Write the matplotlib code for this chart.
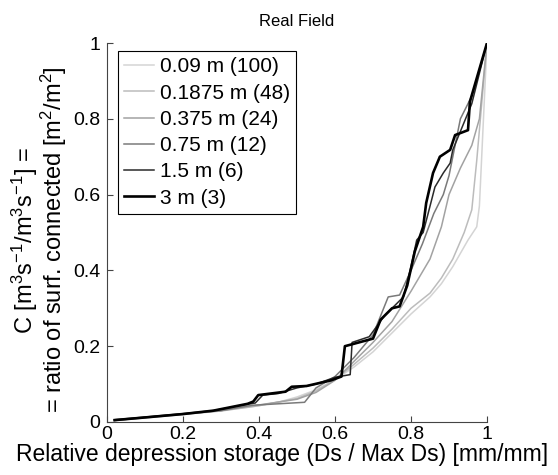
import numpy as np
import matplotlib
matplotlib.use("Agg")
import matplotlib.pyplot as plt

plt.rcParams["font.family"] = ["Liberation Sans", "DejaVu Sans"]
plt.rcParams["mathtext.default"] = "regular"

# ---------------------------------------------------------------------------
# DATA
# ---------------------------------------------------------------------------
LABELS = ["0.09 m (100)", "0.1875 m (48)", "0.375 m (24)",
          "0.75 m (12)", "1.5 m (6)", "3 m (3)"]

x_009 = [0.02, 0.10, 0.20, 0.30, 0.38, 0.45, 0.50, 0.55, 0.60, 0.65, 0.70,
         0.75, 0.80, 0.85, 0.88, 0.91, 0.95, 0.973, 0.98, 1.0]
y_009 = [0.004, 0.011, 0.020, 0.030, 0.040, 0.052, 0.066, 0.085, 0.112, 0.145,
         0.185, 0.235, 0.285, 0.330, 0.365, 0.410, 0.480, 0.515, 0.570, 1.0]

x_01875 = [0.02, 0.10, 0.20, 0.30, 0.40, 0.50, 0.55, 0.60, 0.65, 0.70, 0.75,
           0.80, 0.85, 0.88, 0.91, 0.94, 0.96, 0.973, 1.0]
y_01875 = [0.004, 0.011, 0.020, 0.029, 0.043, 0.062, 0.082, 0.112, 0.152,
           0.195, 0.245, 0.300, 0.340, 0.380, 0.430, 0.500, 0.560, 0.690, 1.0]

x_0375 = [0.02, 0.10, 0.20, 0.30, 0.40, 0.50, 0.55, 0.60, 0.65, 0.70, 0.75,
          0.80, 0.85, 0.88, 0.90, 0.93, 0.96, 0.98, 1.0]
y_0375 = [0.004, 0.012, 0.021, 0.030, 0.045, 0.060, 0.078, 0.110, 0.160,
          0.210, 0.265, 0.345, 0.430, 0.515, 0.600, 0.670, 0.730, 0.800, 1.0]

x_075 = [0.02, 0.10, 0.20, 0.30, 0.38, 0.45, 0.52, 0.55, 0.60, 0.65, 0.70,
         0.72, 0.74, 0.77, 0.80, 0.83, 0.86, 0.885, 0.90, 0.93, 0.96, 1.0]
y_075 = [0.004, 0.012, 0.021, 0.030, 0.044, 0.048, 0.052, 0.090, 0.120, 0.170,
         0.230, 0.280, 0.330, 0.335, 0.400, 0.470, 0.550, 0.600, 0.650, 0.800,
         0.860, 1.0]

x_15 = [0.02, 0.10, 0.20, 0.28, 0.37, 0.39, 0.41, 0.45, 0.50, 0.55, 0.60,
        0.64, 0.645, 0.69, 0.73, 0.76, 0.78, 0.80, 0.815, 0.832, 0.845, 0.863,
        0.885, 0.903, 0.91, 0.96, 1.0]
y_15 = [0.006, 0.013, 0.022, 0.030, 0.047, 0.050, 0.071, 0.075, 0.090, 0.100,
        0.118, 0.125, 0.210, 0.225, 0.280, 0.310, 0.330, 0.410, 0.480, 0.500,
        0.550, 0.620, 0.657, 0.683, 0.718, 0.840, 1.0]

x_3 = [0.02, 0.10, 0.20, 0.28, 0.37, 0.385, 0.398, 0.47, 0.486, 0.525, 0.59,
       0.617, 0.626, 0.70, 0.72, 0.75, 0.77, 0.79, 0.81, 0.832, 0.84, 0.858,
       0.876, 0.903, 0.916, 0.95, 0.955, 1.0]
y_3 = [0.005, 0.012, 0.021, 0.030, 0.048, 0.054, 0.071, 0.080, 0.093, 0.095,
       0.110, 0.120, 0.200, 0.220, 0.270, 0.300, 0.305, 0.360, 0.450, 0.515,
       0.578, 0.657, 0.700, 0.718, 0.757, 0.770, 0.845, 1.0]

SERIES = [(x_009, y_009), (x_01875, y_01875), (x_0375, y_0375),
          (x_075, y_075), (x_15, y_15), (x_3, y_3)]
COLORS = ["#d4d4d4", "#bcbcbc", "#a2a2a2", "#7a7a7a", "#2a2a2a", "#000000"]
WIDTHS = [1.1, 1.1, 1.1, 1.1, 1.1, 1.9]
TICKS = [0, 0.2, 0.4, 0.6, 0.8, 1]
TICKLABELS = ["0", "0.2", "0.4", "0.6", "0.8", "1"]

# ---------------------------------------------------------------------------
fig = plt.figure(figsize=(5.58, 4.75), dpi=100)
ax = fig.add_axes([107 / 558, 1 - 422 / 475, 380 / 558, 379 / 475])

for (xs, ys), lab, c, lw in zip(SERIES, LABELS, COLORS, WIDTHS):
    ax.plot(xs, ys, color=c, lw=lw, label=lab)

ax.set_xlim(0, 1)
ax.set_ylim(0, 1)
ax.set_xticks(TICKS)
ax.set_xticklabels(TICKLABELS)
ax.set_yticks(TICKS)
ax.set_yticklabels(TICKLABELS)
ax.spines["top"].set_visible(False)
ax.spines["right"].set_visible(False)
for s in ("left", "bottom"):
    ax.spines[s].set_color("#444444")
    ax.spines[s].set_linewidth(0.8)
ax.tick_params(direction="in", length=4, width=0.8, color="#444444",
               labelsize=14)
ax.tick_params(axis="x", pad=3)
ax.tick_params(axis="y", pad=5)

ax.set_title("Real Field", fontsize=12, pad=12)
ax.set_xlabel("Relative depression storage (Ds / Max Ds) [mm/mm]",
              fontsize=16.5, labelpad=0)
ax.xaxis.label.set_x(0.46)
ax.set_ylabel("C [m$^3$s$^{-1}$/m$^3$s$^{-1}$] =\n"
              "= ratio of surf. connected [m$^2$/m$^2$]",
              fontsize=17, labelpad=3, multialignment="center",
              linespacing=0.95)
ax.yaxis.label.set_y(0.48)

leg = ax.legend(loc="upper left", bbox_to_anchor=(0.029, 0.979),
                borderaxespad=0, fancybox=False, framealpha=1,
                edgecolor="black", fontsize=15, handlelength=1.45,
                handletextpad=0.27, labelspacing=0.35, borderpad=0.3)
leg.get_frame().set_linewidth(0.8)

fig.savefig("out.png", dpi=100)
